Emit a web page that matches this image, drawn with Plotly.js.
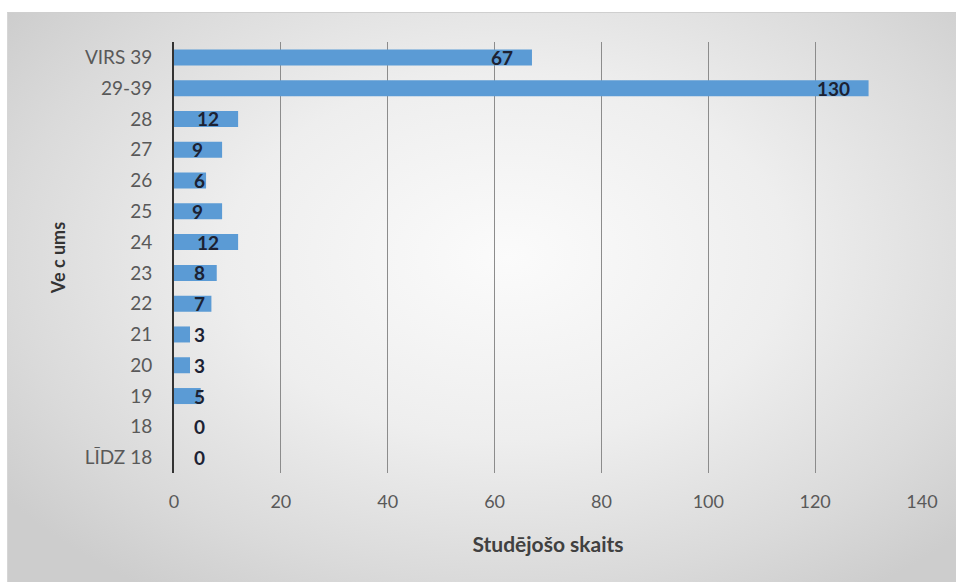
<!DOCTYPE html>
<html>
<head>
<meta charset="utf-8">
<script src="https://cdn.plot.ly/plotly-3.0.1.min.js"></script>
<style>
  html, body { margin: 0; padding: 0; background: #ffffff; }
  #wrap { position: relative; width: 956px; height: 582px; overflow: hidden; }
  #bg { position: absolute; left: 7px; top: 12px; width: 960px; height: 580px;
        border-top: 1px solid #cfcfcf; border-left: 1px solid #d6d6d6;
        background: radial-gradient(ellipse 65% 70% at 52% 42%, #fbfbfb 0%, #eeeeee 45%, #dadada 80%, #cdcdcd 100%); }
  #chart { position: absolute; left: 0; top: 0; width: 956px; height: 582px; }
</style>
</head>
<body>
<div id="wrap">
  <div id="bg"></div>
  <div id="chart"></div>
</div>
<script>
const categories = ["LĪDZ 18", "18", "19", "20", "21", "22", "23", "24", "25", "26", "27", "28", "29-39", "VIRS 39"];
const students = [0, 0, 5, 3, 3, 7, 8, 12, 9, 6, 9, 12, 130, 67];
const xTicks = [0, 20, 40, 60, 80, 100, 120, 140];

const pxPerUnit = (922 - 174) / 140;
const annotations = categories.map((c, i) => {
  const v = students[i];
  const txt = String(v);
  const tw = txt.length * 11;
  const insideEnd = v * pxPerUnit - 17 > 19 + tw;
  return {
    x: insideEnd ? v : 0, y: i, xref: 'x', yref: 'y',
    text: '<b>' + txt + '</b>', showarrow: false,
    xanchor: insideEnd ? 'right' : 'left',
    xshift: insideEnd ? -17 : 18,
    font: { family: 'Lato, sans-serif', size: 19, color: '#1c2233' }
  };
});

const trace = {
  type: 'bar', orientation: 'h',
  x: students, y: categories,
  marker: { color: '#5b9bd5' },
  hoverinfo: 'none'
};

const layout = {
  width: 956, height: 582,
  paper_bgcolor: 'rgba(0,0,0,0)', plot_bgcolor: 'rgba(0,0,0,0)',
  margin: { l: 174, r: 34, t: 42, b: 109 },
  bargap: 0.48,
  showlegend: false,
  font: { family: 'Lato, sans-serif' },
  xaxis: {
    range: [0, 140], tickvals: xTicks, ticktext: xTicks.map(String),
    showgrid: true, gridcolor: '#8c8c8c', gridwidth: 1,
    zeroline: false, showline: false, ticks: '',
    ticklabelstandoff: 16,
    tickfont: { family: 'Lato, sans-serif', size: 18, color: '#595959' },
    title: { text: '<b>Studējošo skaits</b>', standoff: 26,
             font: { family: 'Lato, sans-serif', size: 21, color: '#404040' } },
    fixedrange: true
  },
  yaxis: {
    type: 'category', categoryorder: 'array', categoryarray: categories,
    range: [-0.5, categories.length - 0.5],
    tickmode: 'array', tickvals: categories, ticktext: categories,
    showline: true, linecolor: '#333333', linewidth: 2,
    showgrid: false, zeroline: false, ticks: '',
    ticklabelstandoff: 16,
    tickfont: { family: 'Lato, sans-serif', size: 19, color: '#595959' },
    title: { text: '<b>Ve c ums</b>', standoff: 14,
             font: { family: 'Lato, sans-serif', size: 18, color: '#333333' } },
    fixedrange: true
  },
  annotations: annotations
};

Plotly.newPlot('chart', [trace], layout, { displayModeBar: false, staticPlot: true });
</script>
</body>
</html>
